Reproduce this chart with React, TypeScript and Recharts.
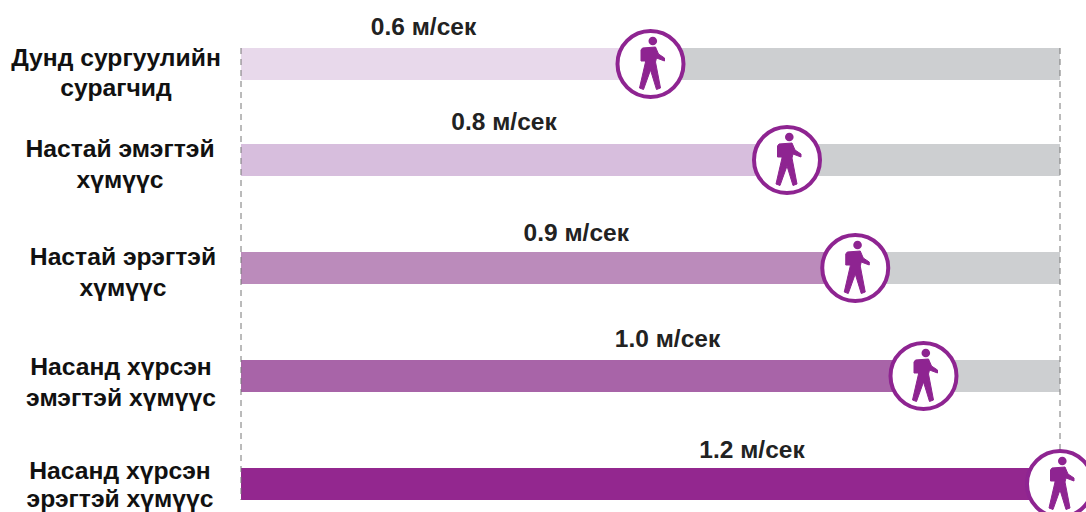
import { BarChart, Bar, XAxis, YAxis, Cell, LabelList, ReferenceLine } from 'recharts';

const groups = [
  'Дунд сургуулийн сурагчид',
  'Настай эмэгтэй хүмүүс',
  'Настай эрэгтэй хүмүүс',
  'Насанд хүрсэн эмэгтэй хүмүүс',
  'Насанд хүрсэн эрэгтэй хүмүүс',
];
const groupLines = [
  ['Дунд сургуулийн', 'сурагчид'],
  ['Настай эмэгтэй', 'хүмүүс'],
  ['Настай эрэгтэй', 'хүмүүс'],
  ['Насанд хүрсэн', 'эмэгтэй хүмүүс'],
  ['Насанд хүрсэн', 'эрэгтэй хүмүүс'],
];
const speeds = [0.6, 0.8, 0.9, 1.0, 1.2];
const unit = 'м/сек';

const barColors = ['#E8D9EB', '#D7BEDD', '#BB8BBB', '#A864A8', '#93278F'];
const trackColor = '#CDCFD1';
const purple = '#8E2491';

// hand placed text, the labels in the source are not aligned to anything
const labelShift = [-227, -283, -279, -256, -308];
const labelRise = [28, 29, 26, 28, 25];
const tickCenter = [116, 120, 123, 121, 120];
const tickRise = [6, 11, 11, 9, 13];
const tickGap = [29.5, 30.5, 30.5, 30.5, 28];

const rows = groups.map((name, i) => ({ name, speed: speeds[i] }));

const GroupTick = ({ y, payload }: any) => {
  const i = groups.indexOf(payload.value);
  return (
    <text
      textAnchor="middle"
      fontFamily="Liberation Sans"
      fontWeight="bold"
      fontSize={24.7}
      fill="#111"
    >
      {groupLines[i].map((line, n) => (
        <tspan key={line} x={tickCenter[i]} y={y - tickRise[i] + 8 + n * tickGap[i]}>
          {line}
        </tspan>
      ))}
    </text>
  );
};

const Walker = ({ x, y }: { x: number; y: number }) => (
  <g transform={`translate(${x},${y})`}>
    <circle r={33} fill="#fff" stroke={purple} strokeWidth={4} />
    <circle cx={2.3} cy={-23} r={4.3} fill={purple} />
    <path
      d="M-8,-16 L5,-17 L8,-10 L14,-6 L14,-3 L6,-6 L5,-2 L10,24 L6,25.5 L0,6 L-7,25.5 L-11,24 L-5,-2 L-5,-3 L-9.5,-3 L-9.5,-14 Z"
      fill={purple}
      stroke={purple}
      strokeWidth={1}
      strokeLinejoin="round"
    />
  </g>
);

const Rows = ({ from, to, top, height }: { from: number; to: number; top: number; height: number }) => (
  <BarChart
    layout="vertical"
    width={1086}
    height={height}
    data={rows.slice(from, to)}
    margin={{ top, right: 26, bottom: 0, left: 0 }}
    style={{ position: 'absolute', left: 0, top: 0 }}
  >
    <XAxis type="number" domain={[0, 1.2]} hide />
    <YAxis
      type="category"
      dataKey="name"
      width={241}
      axisLine={false}
      tickLine={false}
      interval={0}
      tick={GroupTick}
    />
    {to === groups.length &&
      [0, 1.2].map((v) => (
        <ReferenceLine
          key={v}
          x={v}
          shape={({ x1 }: any) => (
            <line
              x1={x1}
              x2={x1}
              y1={48}
              y2={v === 0 ? 500 : 452}
              stroke="#777"
              strokeWidth={1}
              strokeDasharray="6 5"
            />
          )}
        />
      ))}
    <Bar dataKey="speed" barSize={32} background={{ fill: trackColor }} isAnimationActive={false}>
      {rows.slice(from, to).map((r, i) => (
        <Cell key={r.name} fill={barColors[from + i]} />
      ))}
      <LabelList
        dataKey="speed"
        content={({ x, y, width, height: h, index, value }: any) => {
          const row = from + index;
          const endX = x + width;
          const midY = y + h / 2;
          return (
            <g>
              <Walker x={endX} y={midY} />
              <text
                x={endX + labelShift[row]}
                y={midY - labelRise[row] - 1}
                textAnchor="middle"
                fontFamily="Liberation Sans"
                fontWeight="bold"
                fontSize={24.5}
                fill="#222"
              >
                {`${Number(value).toFixed(1)} ${unit}`}
              </text>
            </g>
          );
        }}
      />
    </Bar>
  </BarChart>
);

export default function App() {
  return (
    <div style={{ position: 'absolute', left: 0, top: 0, width: 1086, height: 512, overflow: 'hidden', background: '#fff' }}>
      <Rows from={0} to={1} top={16} height={112} />
      <Rows from={1} to={5} top={106} height={538} />
    </div>
  );
}
